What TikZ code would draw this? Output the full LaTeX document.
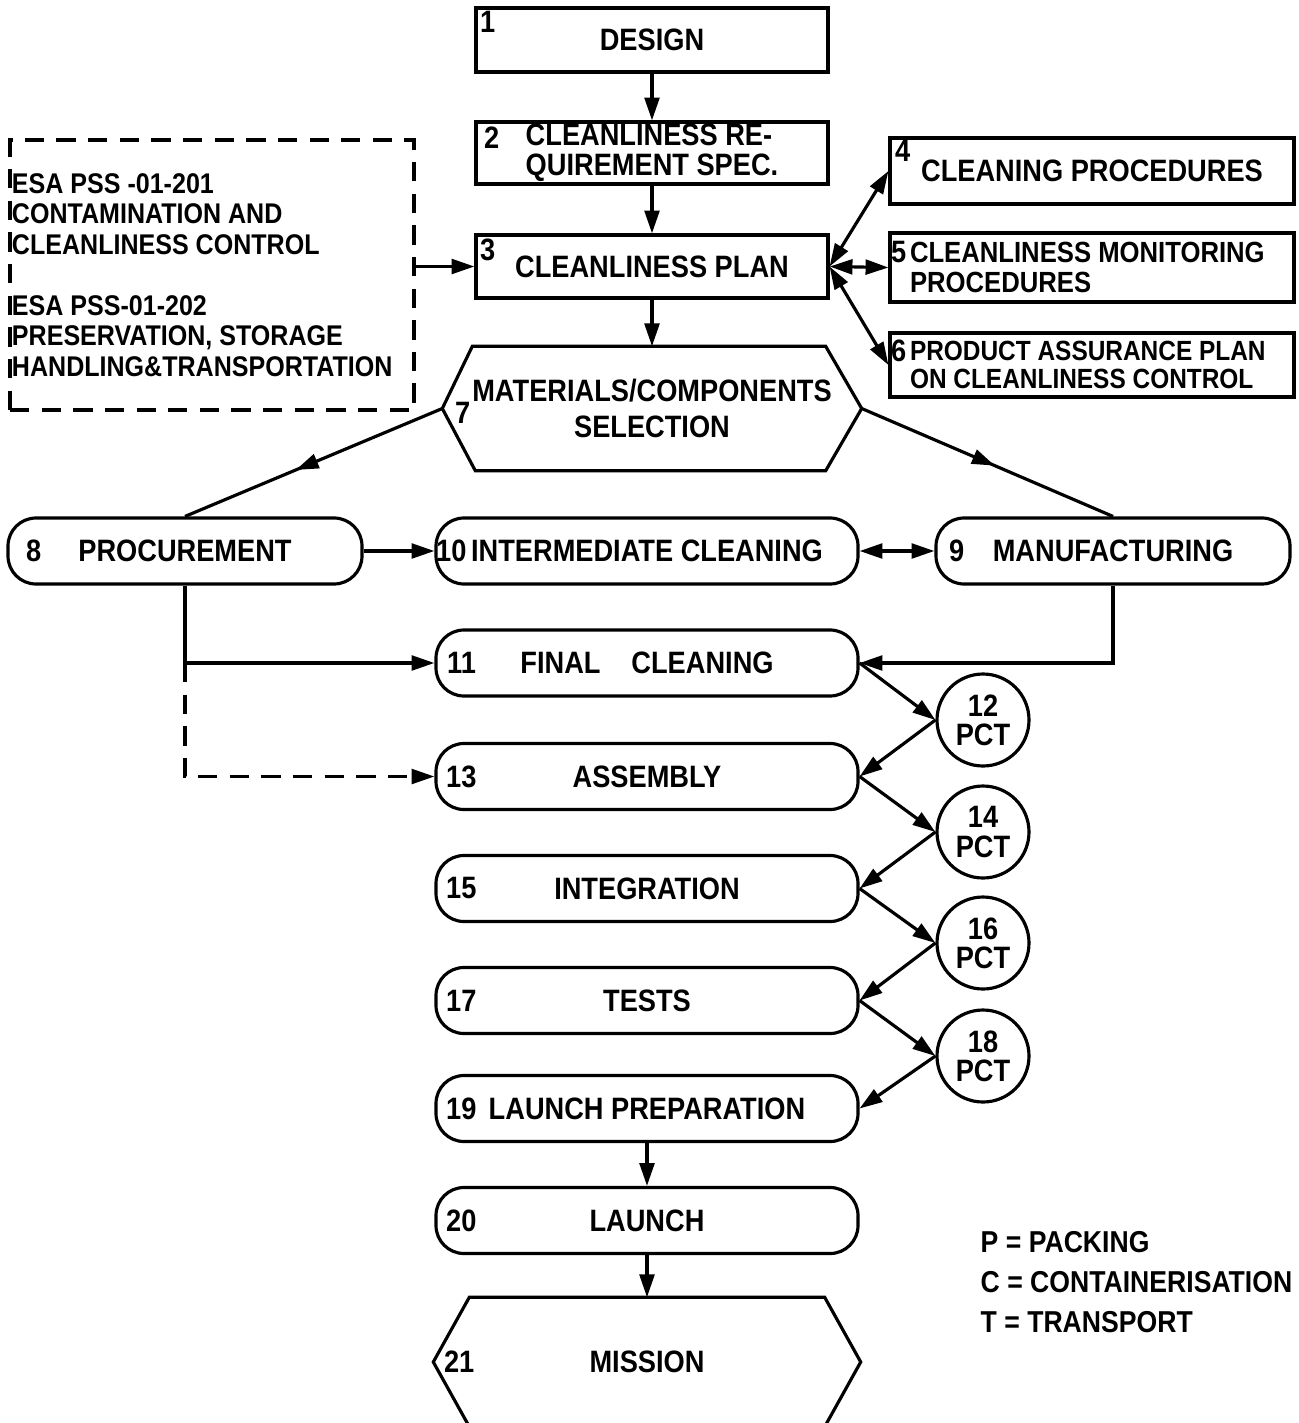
\documentclass[tikz,border=0pt]{standalone}
\usepackage{fontspec}
\setmainfont[FakeStretch=0.88]{Liberation Sans}
\usetikzlibrary{arrows.meta,decorations.markings}

\tikzset{
  box/.style={draw, line width=0.9pt, inner sep=0pt, minimum width=3.52cm},
  pill/.style={draw, line width=0.9pt, rounded corners=0.28cm, minimum width=4.22cm, minimum height=0.66cm, inner sep=0pt},
  pct/.style={draw, circle, line width=0.9pt, minimum size=0.92cm, inner sep=0pt, align=center, font=\bfseries\fontsize{8.8}{8.3}\selectfont},
  num/.style={inner sep=0pt},
  arr/.style={line width=0.9pt, -{Triangle[length=6.5pt,width=4.2pt]}},
  darr/.style={line width=0.9pt, {Triangle[length=6.5pt,width=4.2pt]}-{Triangle[length=6.5pt,width=4.2pt]}},
  midarrow/.style={line width=0.9pt, decoration={markings, mark=at position #1 with {\arrow{Triangle[length=6.5pt,width=4.2pt]}}}, postaction={decorate}},
}

\begin{document}
\begin{tikzpicture}[font=\bfseries\fontsize{8.8}{8.5}\selectfont]
\useasboundingbox (0,0) rectangle (12.99,-14.23);

\node[box, minimum height=0.64cm, label={[num, anchor=north west, xshift=0.05cm, yshift=-0.04cm]north west:1}] (n1) at (6.52,-0.40) {DESIGN};
\node[box, minimum height=0.62cm, align=left, label={[num, anchor=west, xshift=0.09cm, yshift=0.15cm]west:2}] (n2) at (6.52,-1.53) {CLEANLINESS RE-\\QUIREMENT SPEC.};
\node[box, minimum height=0.63cm, label={[num, anchor=north west, xshift=0.05cm, yshift=-0.05cm]north west:3}] (n3) at (6.52,-2.665) {CLEANLINESS PLAN};

\node[box, minimum width=4.04cm, minimum height=0.66cm, label={[num, anchor=north west, xshift=0.06cm, yshift=-0.03cm]north west:4}] (n4) at (10.92,-1.71) {CLEANING PROCEDURES};
\node[box, minimum width=4.04cm, minimum height=0.69cm, inner xsep=0.2cm, text width=3.64cm, align=flush left, font=\bfseries\fontsize{8.3}{8.5}\selectfont, label={[num, anchor=west, xshift=0.02cm, yshift=0.15cm]west:5}] (n5) at (10.92,-2.675) {CLEANLINESS MONITORING\\PROCEDURES};
\node[box, minimum width=4.04cm, minimum height=0.64cm, inner xsep=0.2cm, text width=3.64cm, align=flush left, font=\bfseries\fontsize{7.9}{8.2}\selectfont, label={[num, anchor=west, xshift=0.02cm, yshift=0.14cm]west:6}] (n6) at (10.92,-3.65) {PRODUCT ASSURANCE PLAN\\ON CLEANLINESS CONTROL};

\node[draw, line width=0.9pt, dash pattern=on 5.5pt off 3.5pt, minimum width=4.04cm, minimum height=2.70cm, text width=4.0cm, inner xsep=0.02cm, align=flush left, font=\bfseries\fontsize{8.1}{8.7}\selectfont] (spec) at (2.12,-2.75) {ESA PSS -01-201\\CONTAMINATION AND\\CLEANLINESS CONTROL\\[8.7pt]ESA PSS-01-202\\PRESERVATION, STORAGE\\HANDLING\&TRANSPORTATION};

\node[minimum width=4.18cm, minimum height=1.23cm, inner sep=0pt, align=center, label={[num, anchor=west, xshift=0.12cm, yshift=-0.04cm]west:7}] (n7) at (6.52,-4.085) {MATERIALS/COMPONENTS\\[1.5pt]SELECTION};
\draw[line width=0.9pt] (n7.west) -- ([xshift=0.30cm]n7.north west) -- ([xshift=-0.36cm]n7.north east) -- (n7.east) -- ([xshift=-0.36cm]n7.south east) -- ([xshift=0.33cm]n7.south west) -- cycle;

\node[pill, minimum width=3.54cm, label={[num, anchor=west, xshift=0.19cm]west:8}] (n8) at (1.85,-5.51) {PROCUREMENT};
\node[pill, label={[num, anchor=west, xshift=0.01cm]west:10}] (n10) at (6.47,-5.51) {INTERMEDIATE CLEANING};
\node[pill, minimum width=3.54cm, label={[num, anchor=west, xshift=0.14cm]west:9}] (n9) at (11.13,-5.51) {MANUFACTURING};

\node[pill, label={[num, anchor=west, xshift=0.12cm]west:11}] (n11) at (6.47,-6.63) {FINAL\quad CLEANING};
\node[pill, label={[num, anchor=west, xshift=0.11cm]west:13}] (n13) at (6.47,-7.765) {ASSEMBLY};
\node[pill, label={[num, anchor=west, xshift=0.11cm]west:15}] (n15) at (6.47,-8.885) {INTEGRATION};
\node[pill, label={[num, anchor=west, xshift=0.11cm]west:17}] (n17) at (6.47,-10.005) {TESTS};
\node[pill, label={[num, anchor=west, xshift=0.11cm]west:19}] (n19) at (6.47,-11.085) {LAUNCH PREPARATION};
\node[pill, label={[num, anchor=west, xshift=0.11cm]west:20}] (n20) at (6.47,-12.205) {LAUNCH};

\node[minimum width=4.26cm, minimum height=1.28cm, inner sep=0pt, label={[num, anchor=west, xshift=0.10cm]west:21}] (n21) at (6.47,-13.62) {MISSION};
\draw[line width=0.9pt] (n21.west) -- ([xshift=0.36cm]n21.north west) -- ([xshift=-0.36cm]n21.north east) -- (n21.east) -- ([xshift=-0.36cm]n21.south east) -- ([xshift=0.36cm]n21.south west) -- cycle;

\node[pct] (n12) at (9.83,-7.20) {12\\PCT};
\node[pct] (n14) at (9.83,-8.32) {14\\PCT};
\node[pct] (n16) at (9.83,-9.43) {16\\PCT};
\node[pct] (n18) at (9.83,-10.56) {18\\PCT};

\node[anchor=north west, align=left, inner sep=0pt, font=\bfseries\fontsize{8.6}{11.4}\selectfont] (legend) at (9.80,-12.31) {P = PACKING\\C = CONTAINERISATION\\T = TRANSPORT};

\draw[arr] (n1.south) -- (n2.north);
\draw[arr] (n2.south) -- (n3.north);
\draw[arr] (n3.south) -- (n7.north);
\draw[arr] (spec.east |- n3.west) -- (n3.west);
\draw[darr] (n3.east) -- (n4.west);
\draw[darr] (n3.east) -- (n5.west);
\draw[darr] (n3.east) -- (n6.west);

\draw[midarrow=0.57] (n7.west) -- (n8.north);
\draw[midarrow=0.53] (n7.east) -- (n9.north);
\draw[arr] (n8.east) -- (n10.west);
\draw[darr] (n10.east) -- (n9.west);

\coordinate (split) at (n8.south |- n11.west);
\draw[arr] (n8.south) |- (n11.west);
\draw[arr, dash pattern=on 5.5pt off 3.5pt] (split) |- (n13.west);
\draw[arr] (n9.south) |- (n11.east);

\draw[arr] (n11.east) -- (n12.west);
\draw[arr] (n12.west) -- (n13.east);
\draw[arr] (n13.east) -- (n14.west);
\draw[arr] (n14.west) -- (n15.east);
\draw[arr] (n15.east) -- (n16.west);
\draw[arr] (n16.west) -- (n17.east);
\draw[arr] (n17.east) -- (n18.west);
\draw[arr] (n18.west) -- (n19.east);

\draw[arr] (n19.south) -- (n20.north);
\draw[arr] (n20.south) -- (n21.north);
\end{tikzpicture}
\end{document}
